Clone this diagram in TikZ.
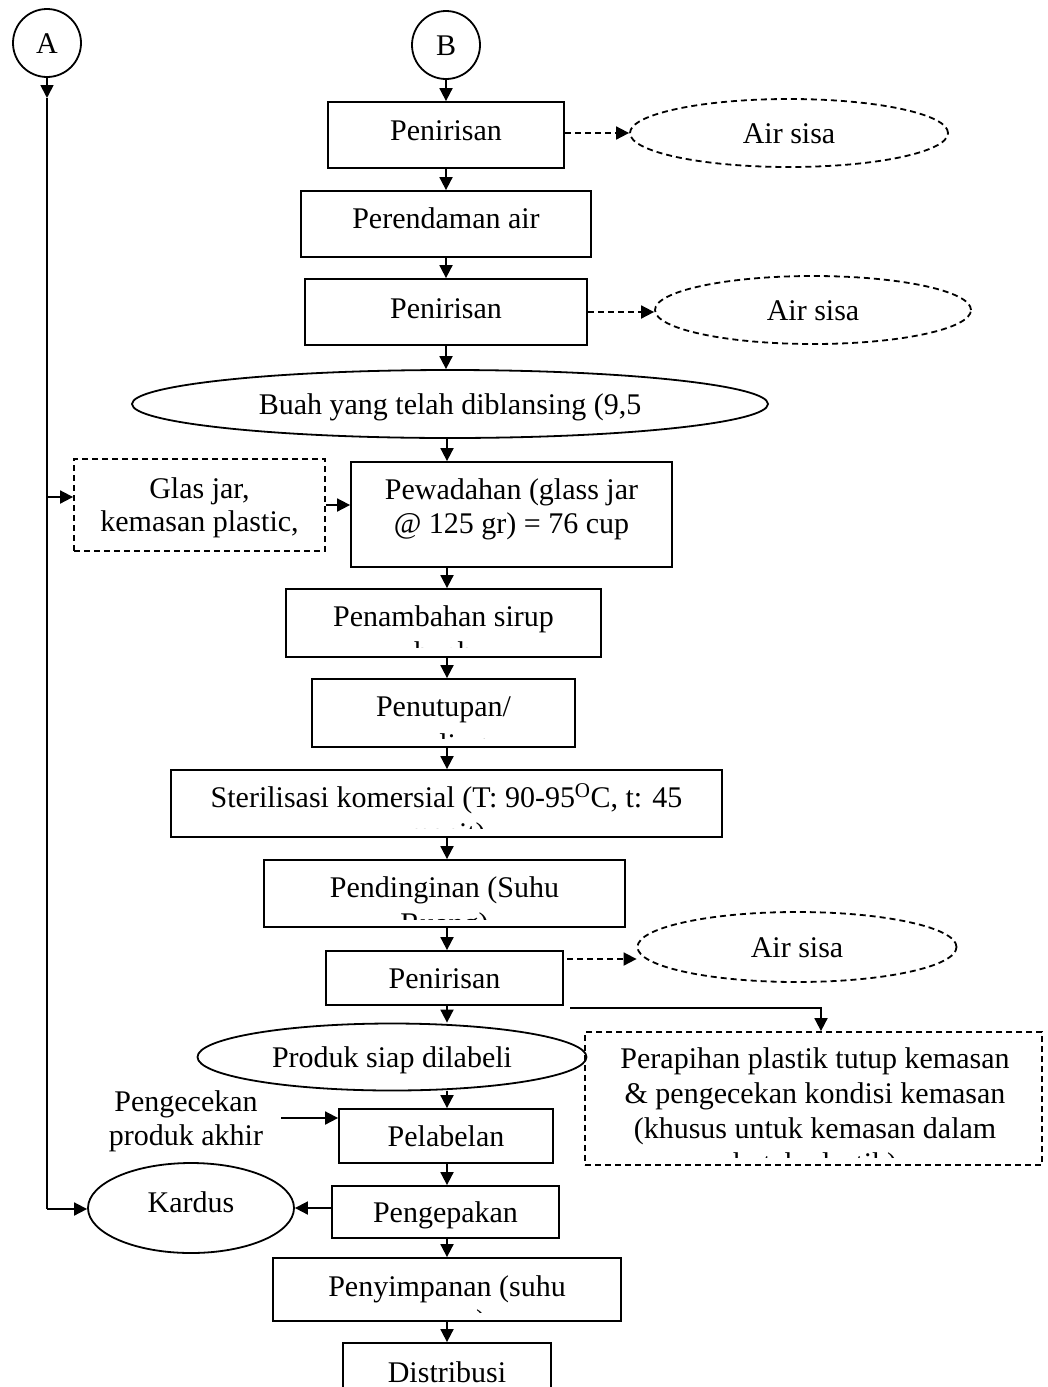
\documentclass[tikz,border=0pt]{standalone}
\usepackage{fontspec}
\setmainfont{Liberation Serif}
\usetikzlibrary{arrows.meta,shapes.geometric}
\begin{document}
\begin{tikzpicture}[x=1pt,y=-1pt,
  lw/.style={line width=1.8pt},
  fnt/.style={font=\fontsize{30}{35}\selectfont},
  box/.style={draw, lw, rectangle, inner sep=0pt, fnt, text height=20pt, text depth=0pt},
  dbox/.style={box, dash pattern=on 6pt off 4pt},
  oval/.style={draw, lw, ellipse, inner sep=0pt, fnt, text height=20pt, text depth=0pt},
  doval/.style={oval, dash pattern=on 6pt off 4pt},
  conn/.style={draw, circle, lw, inner sep=0pt, minimum size=68pt, fnt, text height=20pt, text depth=0pt},
  txt/.style={inner sep=0pt, fnt, anchor=base},
  arr/.style={lw, -{Triangle[length=13pt,width=13pt]}},
  darr/.style={arr, dash pattern=on 6pt off 4pt},
  plain/.style={lw}
]
\useasboundingbox (0,0) rectangle (1047,1387);
\clip (0,0) rectangle (1047,1387);

% connectors A, B
\node[conn] (A) at (47,43) {A};
\node[conn] (B) at (446,45) {B};

% upper chain
\node[box, minimum width=236pt, minimum height=66pt, text depth=10pt] (p1) at (446,135) {Penirisan};
\node[doval, minimum width=318pt, minimum height=68pt] (air1) at (789,133) {Air sisa};
\node[box, minimum width=290pt, minimum height=66pt, text depth=12pt] (rend) at (446,224) {Perendaman air};
\node[box, minimum width=282pt, minimum height=66pt, text depth=8pt] (p2) at (446,312) {Penirisan};
\node[doval, minimum width=316pt, minimum height=68pt] (air2) at (813,310) {Air sisa};
\node[oval, minimum width=636pt, minimum height=68pt] (buah) at (450,404) {Buah yang telah diblansing (9,5};

% glas jar + pewadahan
\node[dbox, minimum width=251pt, minimum height=92pt] (glas) at (199.5,505) {};
\node[txt] (glasA) at (199.5,498) {Glas jar,};
\node[txt] (glasB) at (199.5,531) {kemasan plastic,};
\node[box, minimum width=321pt, minimum height=105pt] (pew) at (511.5,514.5) {};
\node[txt] (pewA) at (511.5,499) {Pewadahan (glass jar};
\node[txt] (pewB) at (511.5,533) {@ 125 gr) = 76 cup};

% clipped boxes
\node[box, minimum width=315pt, minimum height=68pt] (sirup) at (443.5,623) {};
\begin{scope}
\clip ([yshift=10pt]sirup.south west) rectangle (sirup.north east);
\node[txt] (sirupA) at (443.5,626) {Penambahan sirup};
\node[txt] (sirupB) at (443.5,662) {buah};
\end{scope}

\node[box, minimum width=263pt, minimum height=68pt] (tutup) at (443.5,713) {};
\begin{scope}
\clip ([yshift=9pt]tutup.south west) rectangle (tutup.north east);
\node[txt] (tutupA) at (443.5,716) {Penutupan/};
\node[txt] (tutupB) at (443.5,754) {sealing};
\end{scope}

\node[box, minimum width=551pt, minimum height=67pt] (steril) at (446.5,803.5) {};
\begin{scope}
\clip ([yshift=9pt]steril.south west) rectangle (steril.north east);
\node[txt] (sterilA) at (446.5,807) {Sterilisasi komersial (T: 90-95\textsuperscript{O}C, t: 45};
\node[txt] (sterilB) at (446.5,843) {menit)};
\end{scope}

\node[box, minimum width=361pt, minimum height=67pt] (dingin) at (444.5,893.5) {};
\begin{scope}
\clip ([yshift=8pt]dingin.south west) rectangle (dingin.north east);
\node[txt] (dinginA) at (444.5,897) {Pendinginan (Suhu};
\node[txt] (dinginB) at (444.5,933) {Ruang)};
\end{scope}

\node[box, minimum width=237pt, minimum height=54pt] (p3) at (444.5,978) {Penirisan};
\node[doval, minimum width=319pt, minimum height=70pt] (air3) at (797,947) {Air sisa};
\node[oval, minimum width=389pt, minimum height=67pt] (produk) at (392,1057) {Produk siap dilabeli};

\node[dbox, minimum width=457pt, minimum height=133pt] (perap) at (813.5,1098.5) {};
\begin{scope}
\clip ([yshift=8pt]perap.south west) rectangle (perap.north east);
\node[txt] (perapA) at (815,1068) {Perapihan plastik tutup kemasan};
\node[txt] (perapB) at (815,1103) {\& pengecekan kondisi kemasan};
\node[txt] (perapC) at (815,1138) {(khusus untuk kemasan dalam};
\node[txt] (perapD) at (815,1173) {kotak plastik)};
\end{scope}

\node[txt] (cekA) at (186,1111) {Pengecekan};
\node[txt] (cekB) at (186,1145) {produk akhir};
\node[box, minimum width=214pt, minimum height=54pt] (label) at (446,1136) {Pelabelan};
\node[oval, minimum width=206pt, minimum height=90pt, text depth=12pt] (kardus) at (191,1208) {Kardus};
\node[box, minimum width=227pt, minimum height=52pt] (pack) at (445.5,1212) {Pengepakan};

\node[box, minimum width=348pt, minimum height=63pt] (simpan) at (447,1289.5) {};
\begin{scope}
\clip ([yshift=9pt]simpan.south west) rectangle (simpan.north east);
\node[txt] (simpanA) at (447,1296) {Penyimpanan (suhu};
\node[txt] (simpanB) at (447,1330) {ruang)};
\end{scope}

\node[box, minimum width=208pt, minimum height=67pt] (dist) at (447,1376.5) {};
\node[txt] (distA) at (447,1382) {Distribusi};

% coordinates
\coordinate (mx) at (447,0);
\coordinate (a1) at (47,98);
\coordinate (a2) at (47,497);
\coordinate (a3) at (47,1209);
\coordinate (d3) at (567,959);
\coordinate (r1) at (570,1008);
\coordinate (r2) at (821,1008);
\coordinate (c1) at (281,1118);

% left line from A
\draw[arr] (A.south) -- (a1);
\draw[plain] (a1) -- (a3);
\draw[arr] (a2) -- (a2 -| glas.west);
\draw[arr] (a3) -- (a3 -| kardus.west);

% main flow
\draw[arr] (B.south) -- (p1.north);
\draw[arr] (p1.south) -- (rend.north);
\draw[arr] (rend.south) -- (p2.north);
\draw[arr] (p2.south) -- (p2.south |- buah.north);
\draw[arr] (mx |- buah.south) -- (mx |- pew.north);
\draw[arr] (mx |- pew.south) -- (mx |- sirup.north);
\draw[arr] (mx |- sirup.south) -- (mx |- tutup.north);
\draw[arr] (mx |- tutup.south) -- (mx |- steril.north);
\draw[arr] (mx |- steril.south) -- (mx |- dingin.north);
\draw[arr] (mx |- dingin.south) -- (mx |- p3.north);
\draw[arr] (mx |- p3.south) -- (mx |- produk.north);
\draw[arr] (mx |- produk.south) -- (mx |- label.north);
\draw[arr] (mx |- label.south) -- (mx |- pack.north);
\draw[arr] (mx |- pack.south) -- (mx |- simpan.north);
\draw[arr] (mx |- simpan.south) -- (mx |- dist.north);

% side flows
\draw[darr] (air1.west -| p1.east) -- (air1.west);
\draw[darr] (p2.east) -- (p2.east -| air2.west);
\draw[darr] (d3) -- (air3.west |- d3);
\draw[arr] (glas.east) -- (glas.east -| pew.west);
\draw[arr] (r1) -- (r2) -- (r2 |- perap.north);
\draw[arr] (c1) -- (c1 -| label.west);
\draw[arr] (kardus.east -| pack.west) -- (kardus.east);
\end{tikzpicture}
\end{document}
